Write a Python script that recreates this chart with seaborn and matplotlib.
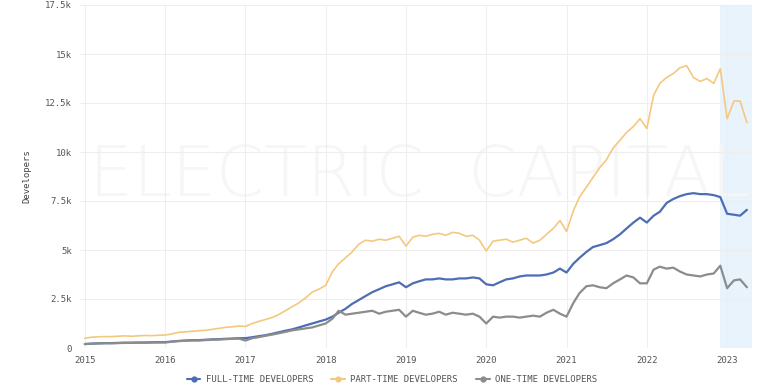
import matplotlib
matplotlib.use("Agg")
import matplotlib.pyplot as plt
import numpy as np
import pandas as pd
import seaborn as sns
from matplotlib.lines import Line2D

# monthly values, thousands of developers, Jan 2015 .. Apr 2023
meses = pd.date_range("2015-01-01", "2023-04-01", freq="MS")

part_time = [
    0.50, 0.55, 0.57, 0.58, 0.58, 0.60, 0.62, 0.60, 0.62, 0.64, 0.63, 0.65,
    0.66, 0.72, 0.80, 0.82, 0.85, 0.88, 0.90, 0.95, 1.00, 1.05, 1.08, 1.12,
    1.10, 1.25, 1.35, 1.45, 1.55, 1.70, 1.90, 2.10, 2.30, 2.55, 2.85, 3.00,
    3.20, 3.90, 4.30, 4.60, 4.90, 5.30, 5.50, 5.45, 5.55, 5.50, 5.60, 5.70,
    5.20, 5.65, 5.75, 5.70, 5.80, 5.85, 5.75, 5.90, 5.85, 5.70, 5.75, 5.50,
    4.95, 5.45, 5.50, 5.55, 5.40, 5.50, 5.60, 5.35, 5.50, 5.80, 6.10, 6.50,
    5.95, 7.00, 7.70, 8.20, 8.70, 9.20, 9.60, 10.20, 10.60, 11.00, 11.30, 11.70,
    11.20, 12.90, 13.50, 13.80, 14.00, 14.30, 14.40, 13.80, 13.60, 13.75, 13.50, 14.25,
    11.70, 12.60, 12.60, 11.50,
]
full_time = [
    0.20, 0.22, 0.24, 0.25, 0.25, 0.26, 0.27, 0.27, 0.28, 0.28, 0.29, 0.30,
    0.30, 0.33, 0.36, 0.38, 0.40, 0.40, 0.42, 0.44, 0.45, 0.47, 0.48, 0.50,
    0.50, 0.55, 0.60, 0.65, 0.72, 0.80, 0.88, 0.95, 1.05, 1.15, 1.25, 1.35,
    1.45, 1.60, 1.80, 2.00, 2.25, 2.45, 2.65, 2.85, 3.00, 3.15, 3.25, 3.35,
    3.10, 3.30, 3.40, 3.50, 3.50, 3.55, 3.50, 3.50, 3.55, 3.55, 3.60, 3.55,
    3.25, 3.20, 3.35, 3.50, 3.55, 3.65, 3.70, 3.70, 3.70, 3.75, 3.85, 4.05,
    3.85, 4.30, 4.60, 4.90, 5.15, 5.25, 5.35, 5.55, 5.80, 6.10, 6.40, 6.65,
    6.40, 6.75, 6.95, 7.40, 7.60, 7.75, 7.85, 7.90, 7.85, 7.85, 7.80, 7.70,
    6.85, 6.80, 6.75, 7.05,
]
one_time = [
    0.20, 0.22, 0.23, 0.24, 0.24, 0.25, 0.26, 0.26, 0.27, 0.27, 0.28, 0.28,
    0.28, 0.32, 0.35, 0.37, 0.38, 0.38, 0.40, 0.42, 0.43, 0.45, 0.47, 0.48,
    0.38, 0.50, 0.55, 0.62, 0.68, 0.75, 0.82, 0.90, 0.95, 1.00, 1.05, 1.15,
    1.25, 1.50, 1.90, 1.70, 1.75, 1.80, 1.85, 1.90, 1.75, 1.85, 1.90, 1.95,
    1.60, 1.90, 1.80, 1.70, 1.75, 1.85, 1.70, 1.80, 1.75, 1.70, 1.75, 1.60,
    1.25, 1.60, 1.55, 1.60, 1.60, 1.55, 1.60, 1.65, 1.60, 1.80, 1.95, 1.75,
    1.60, 2.30, 2.80, 3.15, 3.20, 3.10, 3.05, 3.30, 3.50, 3.70, 3.60, 3.30,
    3.30, 4.00, 4.15, 4.05, 4.10, 3.90, 3.75, 3.70, 3.65, 3.75, 3.80, 4.20,
    3.05, 3.45, 3.50, 3.10,
]

series_nomes = ["FULL-TIME DEVELOPERS", "PART-TIME DEVELOPERS", "ONE-TIME DEVELOPERS"]
cores = ["#4d6db4", "#f5c87f", "#8c8c8c"]
larguras = [1.6, 1.2, 1.6]

y_ticks = [0, 2500, 5000, 7500, 10000, 12500, 15000, 17500]
y_labels = ["0", "2.5k", "5k", "7.5k", "10k", "12.5k", "15k", "17.5k"]
anos = [2015, 2016, 2017, 2018, 2019, 2020, 2021, 2022, 2023]


def ano_decimal(datas):
    return datas.year + (datas.dayofyear - 1) / 365.0


x = ano_decimal(meses)
dados = pd.concat([
    pd.DataFrame({"ano": x, "dev": np.array(v) * 1000, "tipo": n})
    for v, n in zip([full_time, part_time, one_time], series_nomes)
])

sns.set_style("whitegrid")
mono = "DejaVu Sans Mono"

fig = plt.figure(figsize=(7.79, 3.85), dpi=100)
ax = fig.add_axes([80 / 779, 1 - 348 / 385, 672 / 779, 343 / 385])

# faixa sombreada do ano corrente
ax.axvspan(2022.91, 2023.4, color="#e8f3fc", zorder=0, lw=0)

ax.text(0.505, 0.50, "ELECTRIC  CAPITAL", transform=ax.transAxes, ha="center", va="center",
        fontsize=50, color="#f6f6f6", family="DejaVu Sans", fontweight="light", zorder=0.5)

for nome, cor, lw in zip(series_nomes, cores, larguras):
    sns.lineplot(data=dados[dados["tipo"] == nome], x="ano", y="dev", color=cor,
                 linewidth=lw, ax=ax, legend=False, zorder=3)

ax.set_xlim(2014.94, 2023.31)
ax.set_ylim(0, 17500)
ax.set_xticks(anos)
ax.set_xticklabels([str(a) for a in anos], family=mono, fontsize=6.5, color="#555555")
ax.set_yticks(y_ticks)
ax.set_yticklabels(y_labels, family=mono, fontsize=6.5, color="#555555")
ax.tick_params(axis="both", length=0, pad=6)
ax.set_xlabel("")
ax.set_ylabel("Developers", family=mono, fontsize=6.5, color="#444444", labelpad=10)
ax.grid(True, color="#eeeeee", linewidth=0.8)
for s in ax.spines.values():
    s.set_visible(False)

handles = [Line2D([0], [0], color=c, lw=1.5, marker="o", markersize=3.5) for c in cores]
fig.legend(handles, series_nomes, loc="center", bbox_to_anchor=(392 / 779, 1 - 380 / 385),
           ncol=3, frameon=False, prop={"family": mono, "size": 6.5}, handlelength=1.5,
           columnspacing=2.0, handletextpad=0.6, labelcolor="#555555")

fig.savefig("out.png", dpi=100)
